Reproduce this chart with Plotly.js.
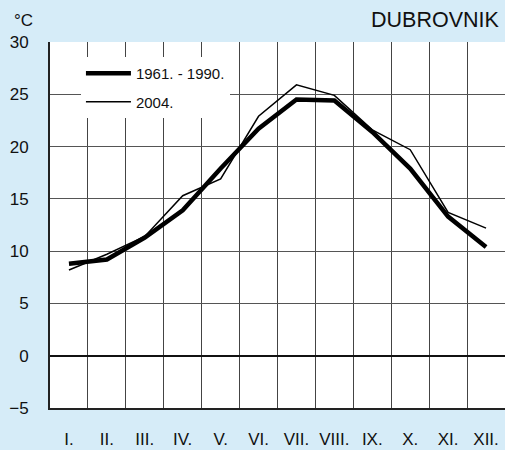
<!DOCTYPE html>
<html>
<head>
<meta charset="utf-8">
<script src="https://cdn.plot.ly/plotly-3.0.1.min.js"></script>
<style>
  html, body { margin: 0; padding: 0; background: #d6ecf8; }
  #plot { width: 505px; height: 450px; }
</style>
</head>
<body>
<div id="plot"></div>
<script>
// monthly mean air temperature, Dubrovnik
const months = ['I.', 'II.', 'III.', 'IV.', 'V.', 'VI.', 'VII.', 'VIII.', 'IX.', 'X.', 'XI.', 'XII.'];
const normal6190 = [8.8, 9.2, 11.3, 13.9, 17.9, 21.7, 24.5, 24.4, 21.4, 17.9, 13.3, 10.4];
const temp2004 = [8.2, 9.7, 11.4, 15.3, 16.9, 22.9, 25.9, 24.9, 21.6, 19.7, 13.7, 12.2];
const yTicks = [-5, 0, 5, 10, 15, 20, 25, 30];

const FONT = 'Liberation Sans, Arial, sans-serif';
const bgColor = '#d6ecf8';

function makeLineTrace(name, y, width, group) {
	return {
		type: 'scatter',
		mode: 'lines',
		name,
		x: months,
		y,
		legendgroup: group,
		line: {
			color: '#000',
			width,
		},
		hoverinfo: 'skip',
	};
}

const data = [
	makeLineTrace('1961. - 1990.', normal6190, 4.5, 'a'),
	makeLineTrace('2004.', temp2004, 1.5, 'b'),
];

const layout = {
	width: 505,
	height: 450,
	paper_bgcolor: bgColor,
	plot_bgcolor: '#fff',
	font: { family: FONT, color: '#111', size: 17 },
	margin: { l: 50, r: 0, t: 42, b: 42 },
	showlegend: true,
	legend: {
		x: 0.068,
		xanchor: 'left',
		y: 0.959,
		yanchor: 'top',
		bgcolor: '#fff',
		borderwidth: 0,
		itemwidth: 45,
		traceorder: 'grouped',
		tracegroupgap: 6,
		font: { family: FONT, size: 15, color: '#111' },
	},
	xaxis: {
		type: 'category',
		range: [-0.5, 11.5],
		tickson: 'boundaries',
		showgrid: true,
		gridcolor: '#444',
		gridwidth: 1,
		showline: true,
		linecolor: '#222',
		linewidth: 2,
		ticks: '',
		tickangle: 0,
		ticklabelstandoff: 15,
		tickfont: { family: FONT, size: 17, color: '#111' },
		fixedrange: true,
	},
	yaxis: {
		range: [-5, 30],
		tickmode: 'array',
		tickvals: yTicks,
		showgrid: true,
		gridcolor: '#555',
		gridwidth: 1,
		zeroline: true,
		zerolinecolor: '#111',
		zerolinewidth: 2,
		showline: true,
		linecolor: '#222',
		linewidth: 2,
		ticks: '',
		ticklabelstandoff: 16,
		tickfont: { family: FONT, size: 17, color: '#111' },
		fixedrange: true,
	},
	annotations: [
		{
			text: '°C',
			xref: 'paper', yref: 'paper',
			x: -0.058, y: 1.06,
			xanchor: 'center', yanchor: 'middle',
			showarrow: false,
			font: { family: FONT, size: 17, color: '#111' },
		},
		{
			text: 'DUBROVNIK',
			xref: 'paper', yref: 'paper',
			x: 0.991, y: 1.06,
			xanchor: 'right', yanchor: 'middle',
			showarrow: false,
			font: { family: FONT, size: 21.5, color: '#111' },
		},
	],
};

Plotly.newPlot('plot', data, layout, { staticPlot: true });
</script>
</body>
</html>
